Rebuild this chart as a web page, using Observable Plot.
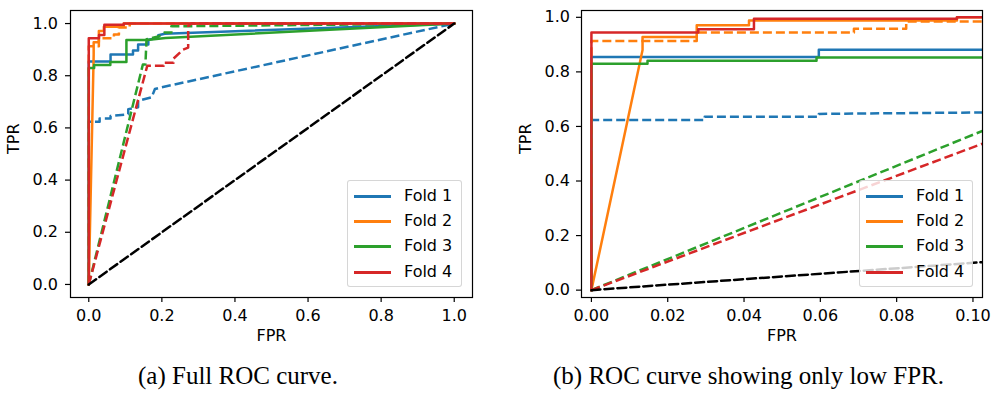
<!DOCTYPE html>
<html>
<head>
<meta charset="utf-8">
<script src="https://cdn.jsdelivr.net/npm/d3@7"></script>
<script src="https://cdn.jsdelivr.net/npm/@observablehq/plot@0.6"></script>
<style>
  html, body { margin: 0; padding: 0; background: #fff; }
  #fig { position: relative; width: 1000px; height: 396px; overflow: hidden; background: #fff; }
  .panel { position: absolute; top: 0; width: 500px; height: 350px; }
  .legend { position: absolute; box-sizing: border-box; background: rgba(255,255,255,0.8);
            border: 1px solid rgba(204,204,204,0.8); border-radius: 3px; height: 107px;
            font-family: "DejaVu Sans", sans-serif; font-size: 16px; color: #000; }
  .legend .row { position: absolute; left: 0; height: 20px; width: 100%; }
  .legend .sw { position: absolute; left: 6px; top: 9px; width: 37px; height: 3px; }
  .legend .tx { position: absolute; left: 56px; top: 0; line-height: 20px; white-space: nowrap; }
  .caption { position: absolute; top: 362px; font-family: "Liberation Serif", serif; font-size: 25px;
             color: #000; white-space: nowrap; line-height: 28px; }
</style>
</head>
<body>
<div id="fig">
  <div id="left" class="panel" style="left:0"></div>
  <div id="right" class="panel" style="left:500px"></div>
</div>
<script>
// ---- data (FPR, TPR) ----
const folds = ["Fold 1", "Fold 2", "Fold 3", "Fold 4"];
const foldColors = ["#1f77b4", "#ff7f0e", "#2ca02c", "#d62728"];

const fold1Solid = [[0,0],[0,0.855],[0.0596,0.855],[0.0596,0.881],[0.121,0.881],[0.121,0.897],[0.135,0.897],[0.135,0.92],[0.163,0.92],[0.163,0.938],[0.19,0.945],[0.19,0.955],[0.208,0.961],[1,1]];
const fold1Dashed = [[0,0],[0,0.624],[0.0297,0.624],[0.0297,0.636],[0.0596,0.636],[0.0596,0.646],[0.108,0.652],[0.108,0.672],[0.135,0.679],[0.135,0.704],[0.172,0.717],[0.181,0.749],[0.194,0.754],[1,1]];
const fold2Solid = [[0,0],[0.0134,0.88],[0.0134,0.928],[0.0276,0.928],[0.0276,0.971],[0.0413,0.971],[0.0413,0.988],[0.0958,0.988],[0.0958,1],[1,1]];
const fold2Dashed = [[0,0],[0,0.913],[0.0276,0.913],[0.0276,0.944],[0.0688,0.944],[0.0688,0.958],[0.0825,0.958],[0.0825,0.985],[0.112,0.985],[0.112,1],[1,1]];
const fold3Solid = [[0,0],[0,0.83],[0.0147,0.83],[0.0147,0.841],[0.059,0.841],[0.059,0.853],[0.103,0.853],[0.103,0.937],[0.16,0.937],[0.21,0.945],[1,1]];
const fold3Dashed = [[0,0],[0.148,0.843],[0.155,0.843],[0.158,0.94],[0.19,0.95],[0.208,0.966],[0.226,0.966],[0.226,0.99],[0.28,0.99],[1,1]];
const fold4Solid = [[0,0],[0,0.944],[0.028,0.944],[0.028,0.956],[0.0426,0.956],[0.0426,0.995],[0.0958,0.995],[0.0958,1],[1,1]];
const fold4Dashed = [[0,0],[0.16,0.838],[0.205,0.838],[0.205,0.85],[0.232,0.85],[0.232,0.866],[0.258,0.9],[0.272,0.908],[0.272,0.99],[0.28,1],[1,1]];
const chance = [[0,0],[1,1]];

const fullTicks = [0, 0.2, 0.4, 0.6, 0.8, 1.0];
const lowFprTicks = [0, 0.02, 0.04, 0.06, 0.08, 0.10];
const captions = ["(a) Full ROC curve.", "(b) ROC curve showing only low FPR."];

// ---- build tables ----
const curves = [
  {fold: "Fold 1", dashed: false, pts: fold1Solid},
  {fold: "Fold 1", dashed: true,  pts: fold1Dashed},
  {fold: "Fold 2", dashed: false, pts: fold2Solid},
  {fold: "Fold 2", dashed: true,  pts: fold2Dashed},
  {fold: "Fold 3", dashed: false, pts: fold3Solid},
  {fold: "Fold 3", dashed: true,  pts: fold3Dashed},
  {fold: "Fold 4", dashed: false, pts: fold4Solid},
  {fold: "Fold 4", dashed: true,  pts: fold4Dashed}
];
const chanceRows = chance.map(([fpr, tpr]) => ({fpr, tpr}));

const FONT = "DejaVu Sans";

function curveMarks() {
  const marks = [];
  curves.forEach((c) => {
    const rows = c.pts.map(([fpr, tpr]) => ({fpr, tpr, fold: c.fold}));
    marks.push(Plot.line(rows, {
      x: "fpr", y: "tpr", stroke: "fold", strokeWidth: 2.5,
      strokeDasharray: c.dashed ? "9,4" : null,
      strokeLinejoin: "round", strokeLinecap: c.dashed ? "butt" : "square", clip: true
    }));
  });
  marks.push(Plot.line(chanceRows, {x: "fpr", y: "tpr", stroke: "black", strokeWidth: 2.5,
    strokeDasharray: "9,4", clip: true}));
  return marks;
}

function panel({xDomain, yDomain, xTicks, xFmt, marginLeft, marginRight, yPad, ylabDx}) {
  return Plot.plot({
    width: 500, height: 350,
    marginLeft, marginRight, marginTop: 10, marginBottom: 53,
    x: {domain: xDomain},
    y: {domain: yDomain},
    color: {domain: folds, range: foldColors},
    style: {fontFamily: FONT, fontSize: "16px", color: "black", background: "transparent", overflow: "visible"},
    marks: [
      ...curveMarks(),
      Plot.frame({stroke: "black", strokeWidth: 1.2}),
      Plot.axisX({ticks: xTicks, tickFormat: d3.format(xFmt), tickSize: 5, tickPadding: 7,
                  label: null, fontSize: 16, strokeWidth: 1.2}),
      Plot.axisY({ticks: fullTicks, tickFormat: d3.format(".1f"), tickSize: 5, tickPadding: yPad,
                  label: null, fontSize: 16, strokeWidth: 1.2}),
      Plot.text(["FPR"], {frameAnchor: "bottom", dy: 43, fontSize: 16, fill: "black"}),
      Plot.text(["TPR"], {frameAnchor: "left", dx: ylabDx, rotate: -90, fontSize: 16, fill: "black"})
    ]
  });
}

document.getElementById("left").append(panel({
  xDomain: [-0.05, 1.05], yDomain: [-0.05, 1.05], xTicks: fullTicks, xFmt: ".1f",
  marginLeft: 70, marginRight: 28, yPad: 7.5, ylabDx: -57
}));
document.getElementById("right").append(panel({
  xDomain: [-0.0026, 0.1025], yDomain: [-0.027, 1.025], xTicks: lowFprTicks, xFmt: ".2f",
  marginLeft: 81, marginRight: 18, yPad: 6.5, ylabDx: -56
}));

// ---- legends (HTML overlay, semi-transparent like matplotlib) ----
function legend(left, width) {
  const box = document.createElement("div");
  box.className = "legend";
  box.style.left = left + "px";
  box.style.top = "180px";
  box.style.width = width + "px";
  folds.forEach((f, i) => {
    const row = document.createElement("div");
    row.className = "row";
    row.style.top = Math.round(5 + i * 25.2) + "px";
    const sw = document.createElement("div");
    sw.className = "sw";
    sw.style.background = foldColors[i];
    const tx = document.createElement("div");
    tx.className = "tx";
    tx.textContent = f;
    row.append(sw, tx);
    box.append(row);
  });
  document.getElementById("fig").append(box);
}
legend(347, 115);
legend(859, 114);

// ---- captions ----
[[138, captions[0]], [553, captions[1]]].forEach(([x, t]) => {
  const d = document.createElement("div");
  d.className = "caption";
  d.style.left = x + "px";
  d.textContent = t;
  document.getElementById("fig").append(d);
});
</script>
</body>
</html>
